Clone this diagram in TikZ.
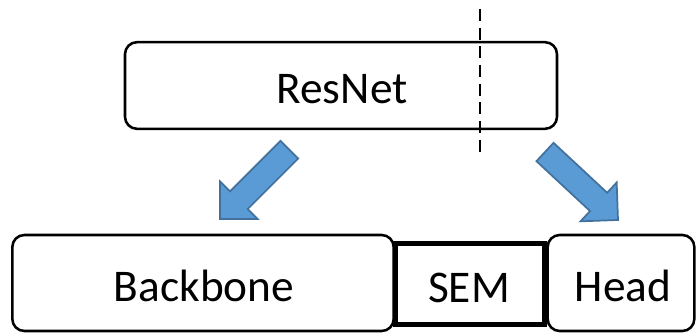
\documentclass[tikz,border=0pt]{standalone}
\usepackage{fontspec}
\setmainfont{Carlito}
\usetikzlibrary{calc}
\definecolor{arrowblue}{HTML}{5B9BD5}
\definecolor{arrowedge}{HTML}{41719C}
\tikzset{
  block/.style={draw=black, line width=1.9pt, rounded corners=9pt, inner sep=0pt},
  semblock/.style={draw=black, line width=3.6pt, inner sep=0pt},
  label/.style={font=\fontsize{34}{40}\selectfont},
  arrowbody/.style={fill=arrowblue, draw=arrowedge, line width=1.3pt, line join=miter},
  splitline/.style={draw=black, line width=2.2pt, dash pattern=on 9pt off 5pt},
}
% block arrow from tail coordinate #1 to tip coordinate #2
\newcommand{\blockarrow}[2]{%
  \coordinate (hb) at ($(#2)!19.9pt!(#1)$);
  \path[arrowbody]
    ($(#1)!9.4pt!90:(#2)$) -- ($(hb)!9.4pt!-90:(#1)$) -- ($(hb)!19.9pt!-90:(#1)$)
    -- (#2) -- ($(hb)!19.9pt!90:(#1)$) -- ($(hb)!9.4pt!90:(#1)$)
    -- ($(#1)!9.4pt!-90:(#2)$) -- cycle;
}
\begin{document}
\begin{tikzpicture}[x=0.75pt,y=-0.75pt]
\useasboundingbox (0,0) rectangle (698,334);
% boxes
\node[block, minimum width=324pt, minimum height=65pt] (resnet) at (341,85.5) {};
\node[label] at (342,89) {ResNet};
\node[block, minimum width=286pt, minimum height=72pt] (backbone) at (203,283) {};
\node[label] at (204,286) {Backbone};
\node[block, minimum width=110pt, minimum height=72pt] (head) at (621,283) {};
\node[label] at (623,286) {Head};
\node[semblock, minimum width=112pt, minimum height=61pt] (sem) at (470,284) {};
\node[label] at (469,288) {SEM};
% split marker
\coordinate (cuttop) at (480,9);
\coordinate (cutbot) at (480,158);
\draw[splitline] (cuttop) -- (cutbot);
% arrows
\coordinate (ltail) at (289.3,149.7);
\coordinate (ltip) at (220,219);
\coordinate (rtail) at (545,152);
\coordinate (rtip) at (618,220);
\blockarrow{ltail}{ltip}
\blockarrow{rtail}{rtip}
\end{tikzpicture}
\end{document}
